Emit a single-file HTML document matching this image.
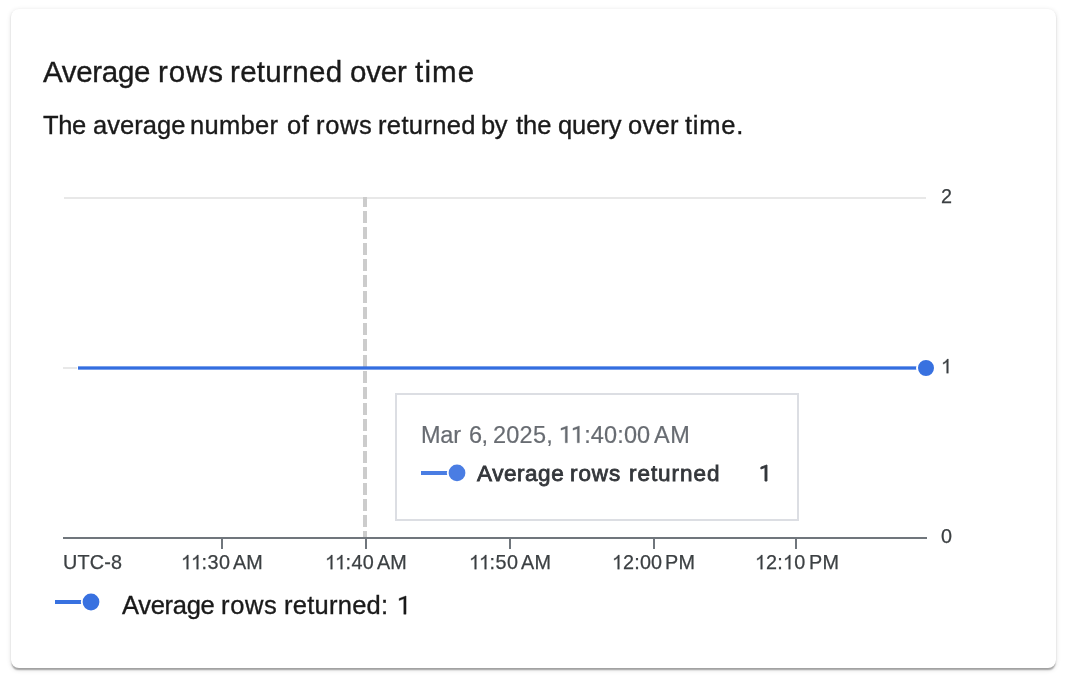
<!DOCTYPE html>
<html lang="en">
<head>
<meta charset="utf-8">
<title>Average rows returned over time</title>
<style>
  html, body { margin: 0; padding: 0; }
  body {
    width: 1065px; height: 678px; overflow: hidden; position: relative;
    background: #ffffff;
    font-family: "Liberation Sans", sans-serif;
  }
  .card {
    position: absolute; left: 11px; top: 9px; width: 1045px; height: 658.6px;
    background: #fff; border-radius: 8px;
    box-shadow: 0 3.2px 1.6px -1.6px rgba(0,0,0,.2), 0 1.6px 1.6px 0 rgba(0,0,0,.14), 0 1.6px 4.8px 0 rgba(0,0,0,.12);
  }
  /* every word is placed individually so it lines up with the reference */
  .t { position: absolute; white-space: nowrap; line-height: 1; margin: 0; font-weight: normal; will-change: transform; }
  .title   { font-size: 29.5px; color: #1a1a1a; -webkit-text-stroke: 0.35px #1a1a1a; }
  .sub     { font-size: 25.5px; color: #1a1a1a; -webkit-text-stroke: 0.35px #1a1a1a; }
  .leg     { font-size: 25.5px; color: #1a1a1a; -webkit-text-stroke: 0.35px #1a1a1a; }
  .ax      { font-size: 19.8px; color: #3c4043; -webkit-text-stroke: 0.25px #3c4043; }
  .tipdate { font-size: 23.5px; color: #686c72; -webkit-text-stroke: 0.2px #686c72; }
  .tipname { font-size: 22.5px; color: #34373b; -webkit-text-stroke: 0.8px #34373b; }
  .k { margin-right: -1.5px; }
  .tipdate .k { margin-right: -1.2px; }
  .a1 { display: inline-block; width: 0.556em; height: 0.7178em; vertical-align: baseline; fill: currentColor; stroke: currentColor; stroke-width: 30; overflow: visible; position: static; }
  .r1 { display: inline-block; width: 0.5615em; height: 0.7144em; vertical-align: baseline; fill: currentColor; stroke: currentColor; stroke-width: 30; overflow: visible; position: static; }
  .tipname .r1 { stroke-width: 80; }
  #tip {
    position: absolute; left: 395px; top: 393px; width: 400px; height: 124px;
    border: 2px solid #dcdee3; background: #fff;
  }
  svg { position: absolute; left: 0; top: 0; }
</style>
</head>
<body>
<svg width="0" height="0" style="position:absolute">
  <defs>
    <!-- Helvetica/Arial style "1" (2048 upm) -->
    <symbol id="gA1" viewBox="0 0 1139 1470" overflow="visible">
      <path transform="translate(0,1470) scale(1,-1)" d="M763 0H583V1147Q518 1085 412.500 1023T223 930V1104Q373 1174.500 485 1275T644 1470H763Z"/>
    </symbol>
    <!-- Roboto style "1" -->
    <symbol id="gR1" viewBox="0 0 1150 1463" overflow="visible">
      <path transform="translate(0,1463) scale(1,-1)" d="M729 0H544V1233L171 1096V1264L700 1463H729Z"/>
    </symbol>
  </defs>
</svg>
<div class="card"></div>

<!-- chart -->
<svg width="1065" height="678" viewBox="0 0 1065 678" shape-rendering="crispEdges">
  <!-- gridlines -->
  <rect x="64" y="197" width="862" height="2" fill="#e8e8e8"/>
  <rect x="63" y="367" width="863" height="2" fill="#e8e8e8"/>
  <!-- hover dashed line -->
  <clipPath id="cp"><rect x="360" y="197" width="10" height="340"/></clipPath>
  <line x1="365" y1="195" x2="365" y2="537" stroke="#cccccc" stroke-width="4" stroke-dasharray="12 4" clip-path="url(#cp)"/>
  <!-- x axis + ticks -->
  <rect x="63" y="537" width="864" height="2" fill="#70767c"/>
  <rect x="221" y="539" width="2" height="10" fill="#70767c"/>
  <rect x="365" y="539" width="2" height="10" fill="#70767c"/>
  <rect x="509" y="539" width="2" height="10" fill="#70767c"/>
  <rect x="653" y="539" width="2" height="10" fill="#70767c"/>
  <rect x="795" y="539" width="2" height="10" fill="#70767c"/>
  <!-- data line -->
  <rect x="77" y="366" width="1" height="4" fill="#ffffff"/>
</svg>
<svg width="1065" height="678" viewBox="0 0 1065 678">
  <rect x="78" y="366.35" width="848" height="3.3" fill="#346ee0"/>
  <circle cx="926" cy="368" r="9" fill="#3871e0" stroke="#ffffff" stroke-width="2"/>
  <!-- legend swatch -->
  <rect x="55" y="600" width="30" height="4" fill="#3871e0" shape-rendering="crispEdges"/>
  <circle cx="91" cy="602" r="10.2" fill="#ffffff"/><circle cx="91" cy="602" r="8.4" fill="#3871e0"/>
</svg>

<!-- tooltip -->
<div id="tip"></div>
<svg width="1065" height="678" viewBox="0 0 1065 678">
  <rect x="421" y="471" width="30" height="4" fill="#4a7de3" shape-rendering="crispEdges"/>
  <circle cx="457" cy="472.9" r="10.2" fill="#ffffff"/><circle cx="457" cy="472.9" r="8.4" fill="#4a7de3"/>
</svg>

<!-- text (one span per word) -->
<span class="t title" id="title0" style="left:43.33px;top:57.07px;letter-spacing:-0.328px;">Average</span>
<span class="t title" id="title1" style="left:158.15px;top:57.07px;letter-spacing:0.882px;">rows</span>
<span class="t title" id="title2" style="left:230.12px;top:57.07px;letter-spacing:0.309px;">returned</span>
<span class="t title" id="title3" style="left:349.51px;top:57.07px;letter-spacing:-0.177px;">over</span>
<span class="t title" id="title4" style="left:414.61px;top:57.07px;letter-spacing:1.182px;">time</span>
<span class="t sub" id="sub0" style="left:43.31px;top:113.3px;letter-spacing:-0.406px;">The</span>
<span class="t sub" id="sub1" style="left:93.29px;top:113.3px;letter-spacing:0.065px;">average</span>
<span class="t sub" id="sub2" style="left:190.29px;top:113.3px;letter-spacing:0.287px;">number</span>
<span class="t sub" id="sub3" style="left:287.05px;top:113.3px;letter-spacing:0.500px;">of</span>
<span class="t sub" id="sub4" style="left:316.09px;top:113.3px;letter-spacing:0.668px;">rows</span>
<span class="t sub" id="sub5" style="left:378.00px;top:113.3px;letter-spacing:0.365px;">returned</span>
<span class="t sub" id="sub6" style="left:481.43px;top:113.3px;letter-spacing:-0.500px;">by</span>
<span class="t sub" id="sub7" style="left:516.24px;top:113.3px;">the</span>
<span class="t sub" id="sub8" style="left:557.82px;top:113.3px;letter-spacing:-0.099px;">query</span>
<span class="t sub" id="sub9" style="left:628.00px;top:113.3px;letter-spacing:0.322px;">over</span>
<span class="t sub" id="sub10" style="left:684.84px;top:113.3px;letter-spacing:0.755px;">time.</span>
<span class="t leg" id="leg0" style="left:121.90px;top:593.2px;letter-spacing:-0.286px;">Average</span>
<span class="t leg" id="leg1" style="left:220.50px;top:593.2px;letter-spacing:0.674px;">rows</span>
<span class="t leg" id="leg2" style="left:283.68px;top:593.2px;letter-spacing:0.261px;">returned:</span>
<span class="t leg" id="leg3" style="left:397.09px;top:593.2px;"><svg class="r1"><use href="#gR1"/></svg></span>
<span class="t tipdate" id="tipdate0" style="left:420.55px;top:424.3px;letter-spacing:-0.215px;">Mar</span>
<span class="t tipdate" id="tipdate1" style="left:469.20px;top:424.3px;letter-spacing:-0.500px;">6,</span>
<span class="t tipdate" id="tipdate2" style="left:492.95px;top:424.3px;letter-spacing:0.232px;">2025,</span>
<span class="t tipdate" id="tipdate3" style="left:558.84px;top:424.3px;letter-spacing:0.133px;"><svg class="r1 k"><use href="#gR1"/></svg><svg class="r1"><use href="#gR1"/></svg>:40:00</span>
<span class="t tipdate" id="tipdate4" style="left:653.88px;top:424.3px;letter-spacing:0.500px;">AM</span>
<span class="t tipname" id="tipname0" style="left:477.42px;top:462.7px;letter-spacing:0.541px;">Average</span>
<span class="t tipname" id="tipname1" style="left:570.45px;top:462.7px;letter-spacing:0.910px;">rows</span>
<span class="t tipname" id="tipname2" style="left:628.64px;top:462.7px;letter-spacing:0.945px;">returned</span>
<span class="t tipname" id="tipname3" style="left:759.25px;top:462.7px;"><svg class="r1"><use href="#gR1"/></svg></span>
<span class="t ax" id="ax0" style="left:62.93px;top:553px;letter-spacing:0.217px;">UTC-8</span>
<span class="t ax" id="ax1" style="left:181.31px;top:553px;letter-spacing:0.486px;"><svg class="a1 k"><use href="#gA1"/></svg><svg class="a1"><use href="#gA1"/></svg>:30</span>
<span class="t ax" id="ax2" style="left:233.41px;top:553px;letter-spacing:0.051px;">AM</span>
<span class="t ax" id="ax3" style="left:324.52px;top:553px;letter-spacing:0.426px;"><svg class="a1 k"><use href="#gA1"/></svg><svg class="a1"><use href="#gA1"/></svg>:40</span>
<span class="t ax" id="ax4" style="left:376.55px;top:553px;letter-spacing:0.150px;">AM</span>
<span class="t ax" id="ax5" style="left:468.67px;top:553px;letter-spacing:0.512px;"><svg class="a1 k"><use href="#gA1"/></svg><svg class="a1"><use href="#gA1"/></svg>:50</span>
<span class="t ax" id="ax6" style="left:521.20px;top:553px;letter-spacing:0.375px;">AM</span>
<span class="t ax" id="ax7" style="left:611.60px;top:553px;letter-spacing:0.195px;"><svg class="a1"><use href="#gA1"/></svg>2:00</span>
<span class="t ax" id="ax8" style="left:664.65px;top:553px;letter-spacing:0.257px;">PM</span>
<span class="t ax" id="ax9" style="left:754.77px;top:553px;letter-spacing:0.323px;"><svg class="a1"><use href="#gA1"/></svg>2:<svg class="a1"><use href="#gA1"/></svg>0</span>
<span class="t ax" id="ax10" style="left:808.74px;top:553px;letter-spacing:0.431px;">PM</span>
<span class="t ax" id="ay20" style="left:940.82px;top:187px;">2</span>
<span class="t ax" id="ay10" style="left:940.63px;top:357px;"><svg class="a1"><use href="#gA1"/></svg></span>
<span class="t ax" id="ay00" style="left:940.52px;top:527px;">0</span>
</body>
</html>
